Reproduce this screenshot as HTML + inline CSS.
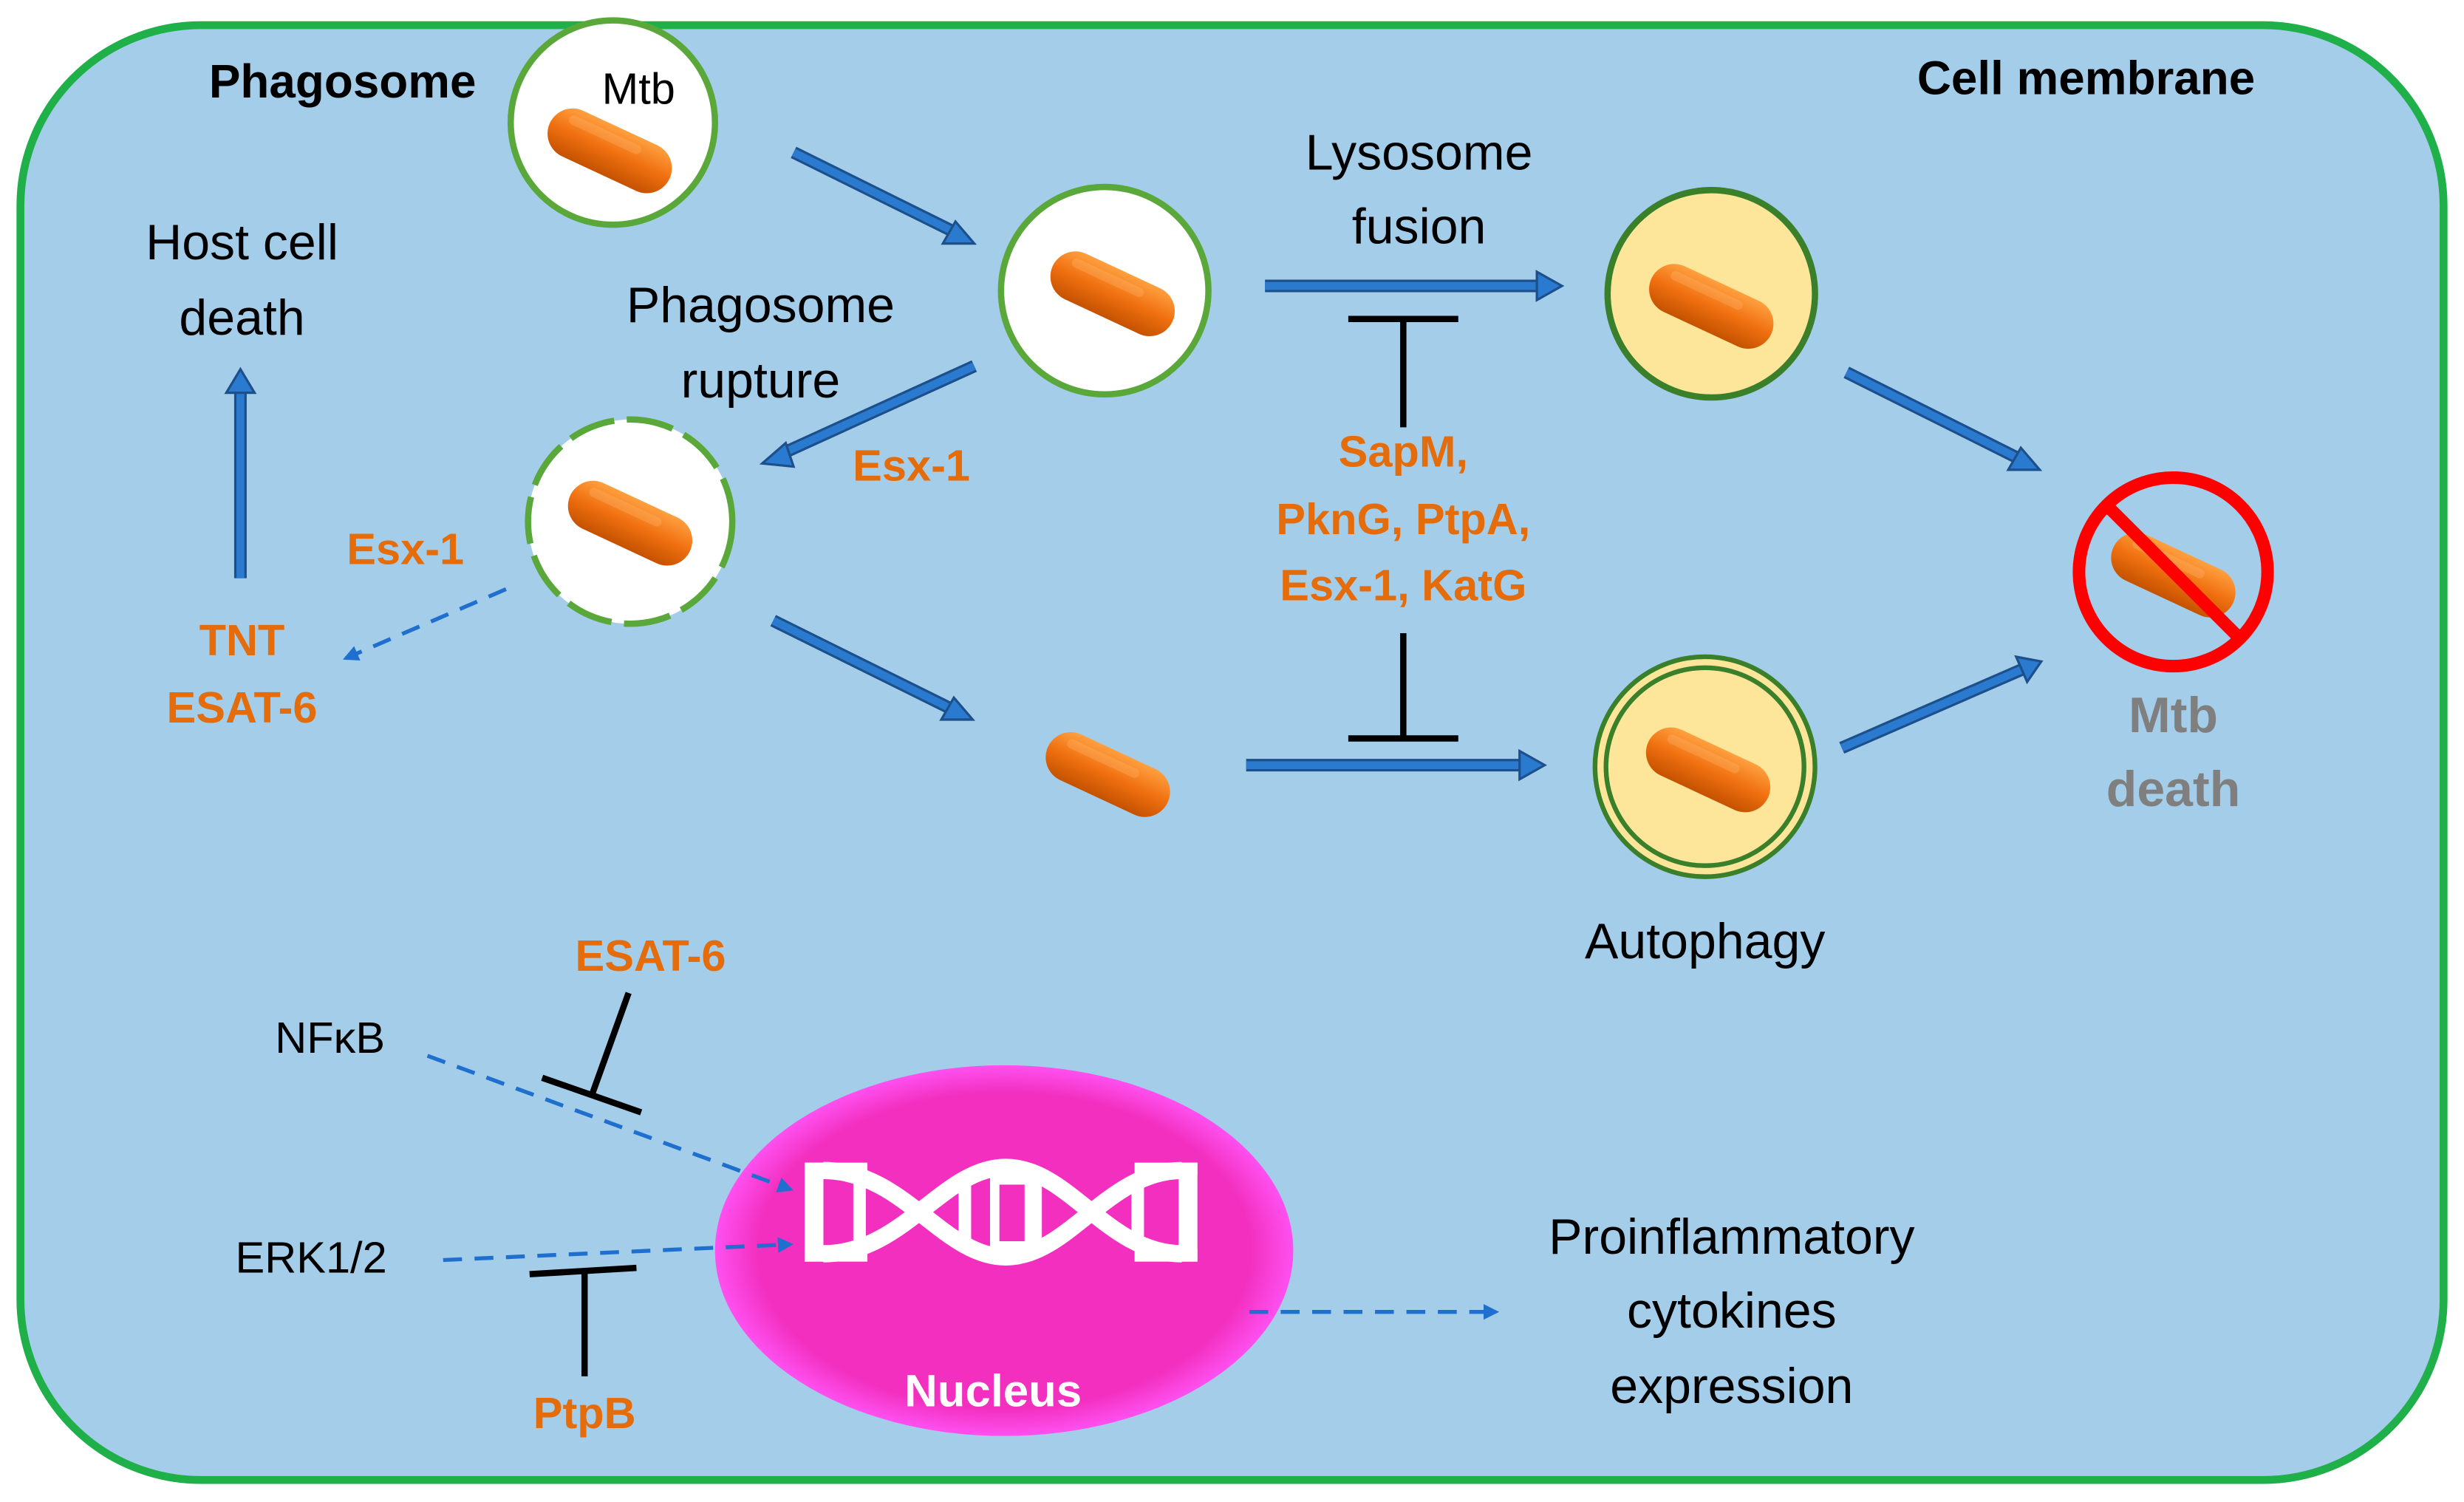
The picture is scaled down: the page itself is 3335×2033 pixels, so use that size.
<!DOCTYPE html>
<html><head><meta charset="utf-8"><style>
html,body{margin:0;padding:0;background:#fff;}
svg{display:block}
text{font-family:"Liberation Sans",sans-serif;}
</style></head><body>
<svg width="3335" height="2033" viewBox="0 0 1568 956" preserveAspectRatio="none">
<defs>
<linearGradient id="bac" x1="0" y1="0" x2="0" y2="1">
<stop offset="0" stop-color="#ffa040"/><stop offset="0.5" stop-color="#f07010"/><stop offset="1" stop-color="#c55200"/>
</linearGradient>
<radialGradient id="nuc" cx="0.5" cy="0.5" r="0.5">
<stop offset="0.85" stop-color="#f22fbf"/><stop offset="1" stop-color="#ff50f0"/>
</radialGradient>
<marker id="ah" markerWidth="10" markerHeight="10" refX="8" refY="5" orient="auto" markerUnits="userSpaceOnUse">
<path d="M0,0 L10,5 L0,10 z" fill="#1f6fcf"/>
</marker>
<g id="b"><rect x="-42" y="-16" width="84" height="32" rx="16" fill="url(#bac)"/><rect x="-32" y="-11" width="50" height="6" rx="3" fill="#ffb870" opacity="0.3"/></g>
</defs>
<rect x="13" y="16" width="1542" height="926" rx="115" fill="#a3cde9" stroke="#1fb04a" stroke-width="5"/>

<text x="133" y="62" font-size="30" font-weight="bold">Phagosome</text>
<text x="1220" y="60" font-size="30" font-weight="bold">Cell membrane</text>

<circle cx="390" cy="78" r="65" fill="#fff" stroke="#5aa83a" stroke-width="4"/>
<use href="#b" transform="translate(388,96) rotate(25)"/>
<text x="383" y="66" font-size="28">Mtb</text>

<circle cx="703" cy="185" r="66" fill="#fff" stroke="#5aa83a" stroke-width="4"/>
<use href="#b" transform="translate(708,187) rotate(25)"/>

<circle cx="1089" cy="187" r="66" fill="#fde59a" stroke="#3a7f2a" stroke-width="4"/>
<use href="#b" transform="translate(1089,195) rotate(25)"/>

<circle cx="401" cy="332" r="65" fill="#fff" stroke="#5aa83a" stroke-width="4" stroke-dasharray="30 8"/>
<use href="#b" transform="translate(401,333) rotate(25)"/>

<use href="#b" transform="translate(705,493) rotate(25)"/>

<circle cx="1085" cy="488" r="70" fill="#fde59a" stroke="#3a7f2a" stroke-width="3"/>
<circle cx="1085" cy="488" r="63" fill="#fde59a" stroke="#3a7f2a" stroke-width="3"/>
<use href="#b" transform="translate(1087,490) rotate(25)"/>

<use href="#b" transform="translate(1383,366) rotate(25)"/>
<circle cx="1383" cy="364" r="60" fill="none" stroke="#ff0000" stroke-width="8"/>
<line x1="1341" y1="322" x2="1425" y2="406" stroke="#ff0000" stroke-width="8"/>

<g stroke="#1d4f8a" stroke-width="1.5" fill="#2a7ad0">
<path d="M505,97 L610,149" stroke="#1d4f8a" stroke-width="8"/>
<path d="M505,97 L610,149" stroke="#2a7ad0" stroke-width="5"/>
<path d="M620,155 L600,155 L608,141 Z"/>
<path d="M805,182 L980,182" stroke="#1d4f8a" stroke-width="8"/><path d="M805,182 L980,182" stroke="#2a7ad0" stroke-width="5"/>
<path d="M994,182 L978,173 L978,191 Z"/>
<path d="M1175,237 L1287,293" stroke="#1d4f8a" stroke-width="8"/><path d="M1175,237 L1287,293" stroke="#2a7ad0" stroke-width="5"/>
<path d="M1298,299 L1278,299 L1286,285 Z"/>
<path d="M1172,476 L1287,426" stroke="#1d4f8a" stroke-width="8"/><path d="M1172,476 L1287,426" stroke="#2a7ad0" stroke-width="5"/>
<path d="M1299,421 L1283,418 L1290,434 Z"/>
<path d="M793,487 L968,487" stroke="#1d4f8a" stroke-width="8"/><path d="M793,487 L968,487" stroke="#2a7ad0" stroke-width="5"/>
<path d="M983,487 L967,478 L967,496 Z"/>
<path d="M492,395 L607,452" stroke="#1d4f8a" stroke-width="8"/><path d="M492,395 L607,452" stroke="#2a7ad0" stroke-width="5"/>
<path d="M619,458 L599,458 L607,444 Z"/>
<path d="M620,233 L497,289" stroke="#1d4f8a" stroke-width="8"/><path d="M620,233 L497,289" stroke="#2a7ad0" stroke-width="5"/>
<path d="M485,295 L500,282 L505,297 Z"/>
<path d="M153,368 L153,248" stroke="#1d4f8a" stroke-width="8"/><path d="M153,368 L153,248" stroke="#2a7ad0" stroke-width="5"/>
<path d="M153,235 L144,250 L162,250 Z"/>
</g>

<g stroke="#000" stroke-width="4">
<line x1="858" y1="203" x2="928" y2="203"/><line x1="893" y1="203" x2="893" y2="272"/>
<line x1="858" y1="470" x2="928" y2="470"/><line x1="893" y1="403" x2="893" y2="470"/>
<line x1="400" y1="632" x2="377" y2="696"/><line x1="345" y1="686" x2="408" y2="708"/>
<line x1="372" y1="876" x2="372" y2="809"/><line x1="337" y1="811" x2="405" y2="807"/>
</g>

<ellipse cx="639" cy="796" rx="184" ry="118" fill="url(#nuc)"/>
<g fill="#fff">
<rect x="512" y="740" width="40" height="8"/><rect x="512" y="795" width="40" height="8"/>
<rect x="722" y="740" width="40" height="8"/><rect x="722" y="795" width="40" height="8"/>
<rect x="512" y="740" width="12" height="63"/><rect x="750" y="740" width="12" height="63"/>
<rect x="543" y="752" width="8" height="40"/><rect x="610" y="752" width="8" height="40"/>
<rect x="630" y="748" width="28" height="48"/><rect x="655" y="752" width="8" height="40"/><rect x="720" y="752" width="8" height="40"/>
</g>
<g stroke="#fff" stroke-width="11" fill="none">
<path d="M524,745 C575,745 600,800 640,800 C680,800 705,745 752,745"/>
<path d="M524,798 C575,798 600,743 640,743 C680,743 705,798 752,798"/>
</g>
<rect x="636" y="754" width="16" height="36" fill="#f22fbf"/>
<text x="632" y="895" font-size="29" font-weight="bold" fill="#fff" text-anchor="middle">Nucleus</text>

<g stroke="#1f6fcf" stroke-width="2.5" stroke-dasharray="12 8" fill="none" marker-end="url(#ah)">
<line x1="322" y1="375" x2="220" y2="419"/>
<line x1="272" y1="672" x2="503" y2="757"/>
<line x1="282" y1="802" x2="503" y2="792"/>
<line x1="795" y1="835" x2="952" y2="835"/>
</g>

<g font-size="32" text-anchor="middle" fill="#000">
<text x="903" y="108">Lysosome</text><text x="903" y="155">fusion</text>
<text x="484" y="205">Phagosome</text><text x="484" y="253">rupture</text>
<text x="154" y="165">Host cell</text><text x="154" y="213">death</text>
<text x="1085" y="610">Autophagy</text>
<text x="1102" y="798">Proinflammatory</text><text x="1102" y="845">cytokines</text><text x="1102" y="893">expression</text>
</g>
<g font-size="28" text-anchor="middle">
<text x="210" y="670">NFκB</text><text x="198" y="810">ERK1/2</text>
</g>
<g font-size="28" font-weight="bold" fill="#e46c0a" text-anchor="middle">
<text x="893" y="297">SapM,</text><text x="893" y="340">PknG, PtpA,</text><text x="893" y="382">Esx-1, KatG</text>
<text x="580" y="306">Esx-1</text><text x="258" y="359">Esx-1</text>
<text x="154" y="417">TNT</text><text x="154" y="460">ESAT-6</text>
<text x="414" y="618">ESAT-6</text><text x="372" y="909">PtpB</text>
</g>
<g font-size="32" font-weight="bold" fill="#7f7f7f" text-anchor="middle">
<text x="1383" y="466">Mtb</text><text x="1383" y="513">death</text>
</g>
</svg>
</body></html>
